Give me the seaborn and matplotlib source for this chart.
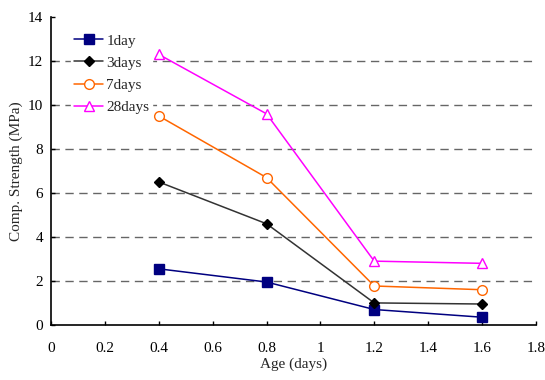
import numpy as np
import pandas as pd
import matplotlib
matplotlib.use("Agg")
import matplotlib.pyplot as plt
import seaborn as sns

age = [0.4, 0.8, 1.2, 1.6]
s_1day = [2.55, 1.95, 0.7, 0.35]
s_3days = [6.5, 4.6, 1.0, 0.95]
s_7days = [9.5, 6.7, 1.77, 1.6]
s_28days = [12.3, 9.6, 2.9, 2.8]

series = ["1day", "3days", "7days", "28days"]
values = [s_1day, s_3days, s_7days, s_28days]
colors = ["#000080", "#333333", "#FF6600", "#FF00FF"]
markers = ["s", "D", "o", "^"]
mfc = ["#000080", "#000000", "white", "white"]
mec = ["#000080", "#000000", "#FF6600", "#FF00FF"]
msize = [6.5, 5.5, 7, 7.5]

sns.set_style("white")
plt.rcParams['font.family'] = ['Liberation Serif', 'DejaVu Serif']

fig = plt.figure(figsize=(5.45, 3.8), dpi=100)
ax = fig.add_axes([0.094, 0.145, 0.889, 0.81])

for name, vals, c, m, fc, ec, ms in zip(series, values, colors, markers, mfc, mec, msize):
    df = pd.DataFrame({"age": age, "val": vals})
    sns.lineplot(data=df, x="age", y="val", ax=ax, color=c, lw=1.1, marker=m,
                 markersize=ms, markerfacecolor=fc, markeredgecolor=ec,
                 markeredgewidth=1.0, label=name, zorder=3)

ax.set_xlim(0, 1.8)
ax.set_ylim(0, 14)
ax.set_xticks(np.arange(0, 1.81, 0.2))
ax.set_xticklabels(["0", "0.2", "0.4", "0.6", "0.8", "1", "1.2", "1.4", "1.6", "1.8"])
ax.set_yticks(range(0, 15, 2))
for y in range(2, 14, 2):
    ax.axhline(y, color="#666666", ls=(0, (6, 4)), lw=1.0, zorder=0)

ax.tick_params(direction="in", length=3, width=1, labelsize=11, colors="black")
ax.tick_params(axis="x", pad=12)
ax.tick_params(axis="y", pad=6)
ax.xaxis.set_ticks_position("bottom")
ax.yaxis.set_ticks_position("left")
for s in ["top", "right"]:
    ax.spines[s].set_visible(False)
for s in ["left", "bottom"]:
    ax.spines[s].set_color("black")
    ax.spines[s].set_linewidth(1.2)

ax.set_xlabel("Age (days)", fontsize=11, labelpad=2)
ax.set_ylabel("Comp. Strength (MPa)", fontsize=11, labelpad=3)

leg = ax.legend(loc="upper left", bbox_to_anchor=(0.035, 0.965), frameon=True, fontsize=11,
                handlelength=1.9, labelspacing=0.55, handletextpad=0.2, borderpad=0.2,
                borderaxespad=0.2, fancybox=False)
leg.get_frame().set_edgecolor("white")
leg.get_frame().set_facecolor("white")
leg.get_frame().set_alpha(1)
leg.set_zorder(1)

fig.savefig("out.png", dpi=100)
